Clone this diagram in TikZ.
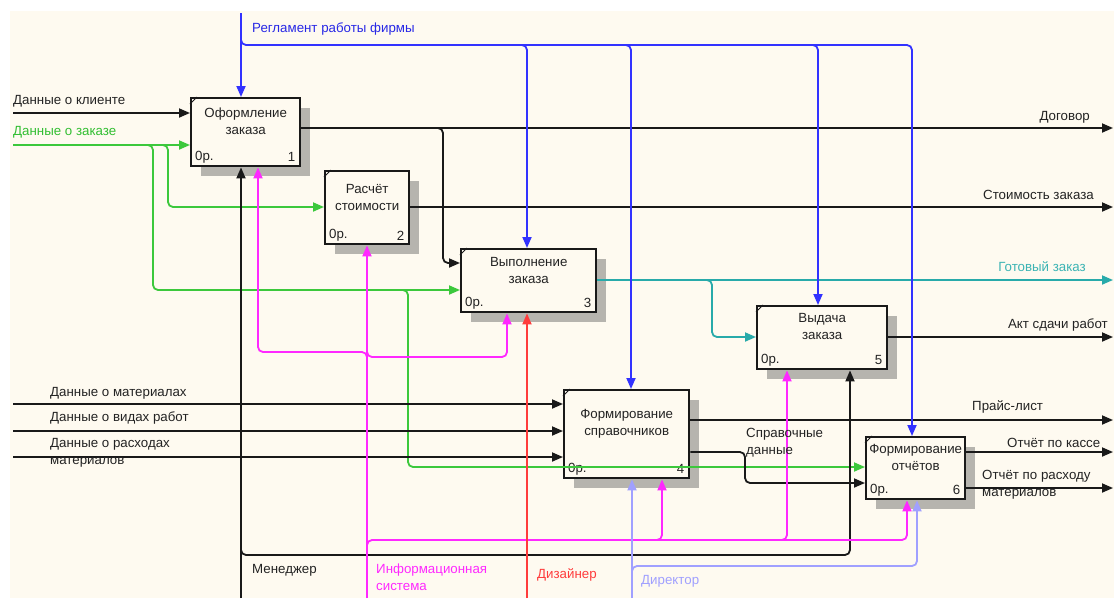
\documentclass[tikz,border=0pt]{standalone}
\usepackage{fontspec}
\setmainfont{Liberation Sans}
\usetikzlibrary{arrows.meta,calc,shadows}
\definecolor{cream}{RGB}{254,250,240}
\definecolor{shadowc}{RGB}{182,180,174}
\definecolor{blk}{RGB}{25,25,25}
\definecolor{txt}{RGB}{35,35,35}
\definecolor{grn}{RGB}{60,200,60}
\definecolor{grnt}{RGB}{50,190,50}
\definecolor{tl}{RGB}{40,170,170}
\definecolor{tlt}{RGB}{60,180,180}
\definecolor{blu}{RGB}{50,50,255}
\definecolor{blut}{RGB}{40,40,230}
\definecolor{mag}{RGB}{255,40,255}
\definecolor{rd}{RGB}{255,60,60}
\definecolor{lav}{RGB}{160,160,255}
\begin{document}
\begin{tikzpicture}[x=1pt,y=-1pt,
  box/.style={draw=blk, line width=2.4pt, fill=cream, inner sep=0pt, anchor=north west,
    drop shadow={shadow xshift=10pt, shadow yshift=-10pt, fill=shadowc, opacity=1}},
  btxt/.style={font=\fontsize{13.3}{17}\selectfont, inner sep=0pt, align=center, text=txt},
  lbl/.style={font=\fontsize{13.3}{17}\selectfont, inner sep=0pt, align=left, text=txt, anchor=west},
  arr/.style={-{Triangle[length=11pt,width=9pt]}, line width=1.8pt, rounded corners=5pt, draw=blk},
  tick/.style={line width=1pt, draw=blk}
]
\useasboundingbox (0,0) rectangle (1114,598);
\fill[white] (0,0) rectangle (1114,598);
\fill[cream] (10,11) rectangle (1114,598);

% boxes
\node[box, minimum width=109pt, minimum height=68pt] (b1) at (190,97) {};
\node[box, minimum width=84pt, minimum height=73pt] (b2) at (324,170) {};
\node[box, minimum width=135pt, minimum height=63pt] (b3) at (460,248) {};
\node[box, minimum width=130pt, minimum height=63pt] (b5) at (756,305) {};
\node[box, minimum width=125pt, minimum height=88pt] (b4) at (563,389) {};
\node[box, minimum width=99pt, minimum height=62pt] (b6) at (865,436) {};

\foreach \b in {b1,b2,b3,b4,b5,b6}{
  \draw[tick] ($(\b.north west)+(0,7)$) -- ($(\b.north west)+(7,0)$);
}

% box texts
\node[btxt] (t1) at ($(b1.north)+(0,24.5)$) {Оформление\\заказа};
\node[btxt] (t2) at ($(b2.north)+(0,27)$) {Расчёт\\стоимости};
\node[btxt] (t3) at ($(b3.north)+(0,22)$) {Выполнение\\заказа};
\node[btxt] (t5) at ($(b5.north)+(0,21.5)$) {Выдача\\заказа};
\node[btxt] (t4) at ($(b4.north)+(0,35)$) {Формирование\\справочников};
\node[btxt] (t6) at ($(b6.north)+(0,21)$) {Формирование\\отчётов};
\foreach \b/\n in {b1/1,b2/2,b3/3,b4/4,b5/5,b6/6}{
  \node[btxt, anchor=west] (z\n) at ($(\b.south west)+(5,-10)$) {0р.};
  \node[btxt, anchor=east] (n\n) at ($(\b.south east)+(-6,-10)$) {\n};
}

% free ends
\coordinate (inA) at (13,113);
\coordinate (inB) at (13,145);
\coordinate (inC) at (13,404);
\coordinate (inD) at (13,431);
\coordinate (inE) at (13,457);
\coordinate (ctl) at (241,13);
\coordinate (oA) at (1113,128);
\coordinate (oB) at (1113,207);
\coordinate (oC) at (1113,280);
\coordinate (oD) at (1113,337);
\coordinate (oE) at (1113,420);
\coordinate (oF) at (1113,452);
\coordinate (oG) at (1113,488);
\coordinate (mA) at (241,598);
\coordinate (mB) at (367,598);
\coordinate (mC) at (527,598);
\coordinate (mD) at (632,598);

% inputs
\draw[arr] (inA) -- (inA -| b1.west);
\draw[arr, draw=grn] (inB) -- (inB -| b1.west);
\draw[arr, draw=grn] (158,145) -- (168,145) -- (168,207) -- (b2.west |- 0,207);
\draw[arr, draw=grn] (143,145) -- (153,145) -- (153,290) -- (b3.west |- 0,290);
\draw[arr, draw=grn] (398,290) -- (408,290) -- (408,467) -- (b6.west |- 0,467);
\draw[arr] (inC) -- (inC -| b4.west);
\draw[arr] (inD) -- (inD -| b4.west);
\draw[arr] (inE) -- (inE -| b4.west);

% outputs
\draw[arr] (b1.east |- oA) -- (oA);
\draw[arr] (433,128) -- (443,128) -- (443,263) -- (b3.west |- 0,263);
\draw[arr] (b2.east |- oB) -- (oB);
\draw[arr, draw=tl] (b3.east |- oC) -- (oC);
\draw[arr, draw=tl] (702,280) -- (712,280) -- (712,337) -- (b5.west |- 0,337);
\draw[arr] (b5.east |- oD) -- (oD);
\draw[arr] (b4.east |- oE) -- (oE);
\draw[arr] (b4.east |- 0,452) -- (745,452) -- (745,483) -- (b6.west |- 0,483);
\draw[arr] (b6.east |- oF) -- (oF);
\draw[arr] (b6.east |- oG) -- (oG);

% controls
\draw[arr, draw=blu] (ctl) -- (ctl |- b1.north);
\draw[arr, draw=blu] (241,35) -- (241,45) -- (912,45) -- (b6.north -| 912,0);
\draw[arr, draw=blu] (517,45) -- (527,45) -- (b3.north -| 527,0);
\draw[arr, draw=blu] (621,45) -- (631,45) -- (b4.north -| 631,0);
\draw[arr, draw=blu] (808,45) -- (818,45) -- (b5.north -| 818,0);

% mechanisms
\draw[arr] (mA) -- (b1.south -| mA);
\draw[arr] (241,546) -- (241,555) -- (850,555) -- (b5.south -| 850,0);
\draw[arr, draw=mag] (mB) -- (b2.south -| mB);
\draw[arr, draw=mag] (367,362) -- (367,352) -- (258,352) -- (b1.south -| 258,0);
\draw[arr, draw=mag] (367,347) -- (367,357) -- (507,357) -- (b3.south -| 507,0);
\draw[arr, draw=mag] (367,550) -- (367,540) -- (907,540) -- (b6.south -| 907,0);
\draw[arr, draw=mag] (652,540) -- (662,540) -- (b4.south -| 662,0);
\draw[arr, draw=mag] (777,540) -- (787,540) -- (b5.south -| 787,0);
\draw[arr, draw=rd] (mC) -- (b3.south -| mC);
\draw[arr, draw=lav] (mD) -- (b4.south -| mD);
\draw[arr, draw=lav] (632,576) -- (632,566) -- (917,566) -- (b6.south -| 917,0);

% labels
\node[lbl, text=blut] (lR) at (252,29) {Регламент работы фирмы};
\node[lbl] (lA) at (13,101) {Данные о клиенте};
\node[lbl, text=grnt] (lB) at (13,132) {Данные о заказе};
\node[lbl, anchor=east] (lO1) at (1090,117) {Договор};
\node[lbl, anchor=east] (lO2) at (1094,195) {Стоимость заказа};
\node[lbl, anchor=east, text=tlt] (lO3) at (1086,267) {Готовый заказ};
\node[lbl, anchor=east] (lO4) at (1108,325) {Акт сдачи работ};
\node[lbl] (lO5) at (972,407) {Прайс-лист};
\node[lbl] (lO6) at (1007,443) {Отчёт по кассе};
\node[lbl] (lO7) at (982,484.5) {Отчёт по расходу\\материалов};
\node[lbl] (lS) at (746,442.5) {Справочные\\данные};
\node[lbl] (lC) at (50,393) {Данные о материалах};
\node[lbl] (lD) at (50,418) {Данные о видах работ};
\node[lbl] (lE) at (50,452.5) {Данные о расходах\\материалов};
\node[lbl] (lM1) at (252,570) {Менеджер};
\node[lbl, text=mag] (lM2) at (376,577.5) {Информационная\\система};
\node[lbl, text=rd] (lM3) at (537,575) {Дизайнер};
\node[lbl, text=lav] (lM4) at (641,581) {Директор};
\end{tikzpicture}
\end{document}
